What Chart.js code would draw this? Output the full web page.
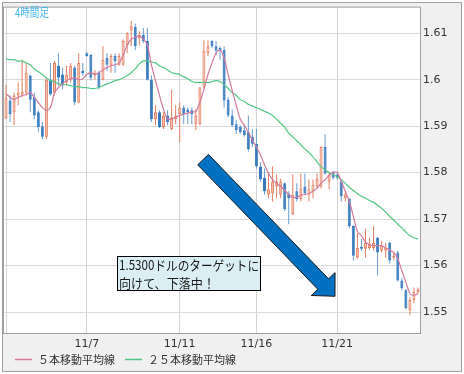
<!DOCTYPE html>
<html>
<head>
<meta charset="utf-8">
<script src="https://cdn.jsdelivr.net/npm/chart.js@4.4.1/dist/chart.umd.min.js"></script>
<style>
html, body { margin: 0; padding: 0; background: #fff; }
</style>
</head>
<body>
<canvas id="myChart" width="464" height="374"></canvas>
<script>
// 4時間足 ローソク足 (読み取り値)
const open = [
    1.5917,1.5955,1.5930,1.5966,1.5968,1.5972,1.6009,1.5962,1.5930,1.5900,
    1.5877,1.6000,1.5972,1.6030,1.6011,1.5994,1.6000,1.6026,1.5951,1.6019,
    1.6057,1.6053,1.6009,1.6015,1.6000,1.6047,1.6032,1.6051,1.6032,1.6032,
    1.6074,1.6106,1.6113,1.6089,1.6096,1.6083,1.6000,1.5915,1.5930,1.5898,
    1.5923,1.5894,1.5915,1.5926,1.5940,1.5936,1.5934,1.5904,1.5904,1.5983,
    1.6057,1.6083,1.6072,1.6068,1.6064,1.5957,1.5923,1.5904,1.5898,1.5891,
    1.5887,1.5877,1.5862,1.5813,1.5789,1.5753,1.5755,1.5770,1.5753,1.5777,
    1.5755,1.5711,1.5760,1.5743,1.5770,1.5753,1.5760,1.5770,1.5770,1.5855,
    1.5781,1.5802,1.5796,1.5781,1.5745,1.5743,1.5685,1.5617,1.5640,1.5636,
    1.5638,1.5638,1.5660,1.5632,1.5632,1.5649,1.5617,1.5628,1.5568,1.5547,
    1.5504,1.5526,1.5543
];
const high = [
    1.5989,1.5966,1.5972,1.5994,1.6043,1.6036,1.6011,1.5972,1.5934,1.5909,
    1.6004,1.6036,1.6040,1.6057,1.6026,1.6030,1.6036,1.6030,1.6057,1.6036,
    1.6060,1.6055,1.6021,1.6019,1.6072,1.6057,1.6055,1.6057,1.6057,1.6087,
    1.6102,1.6126,1.6121,1.6104,1.6111,1.6111,1.6009,1.5945,1.5934,1.5930,
    1.5934,1.5979,1.5945,1.5951,1.5945,1.5940,1.5940,1.5936,1.5985,1.6085,
    1.6085,1.6085,1.6083,1.6072,1.6072,1.5962,1.5936,1.5913,1.5902,1.5904,
    1.5923,1.5894,1.5894,1.5823,1.5809,1.5802,1.5813,1.5796,1.5787,1.5779,
    1.5760,1.5796,1.5777,1.5798,1.5798,1.5785,1.5785,1.5798,1.5857,1.5883,
    1.5802,1.5804,1.5802,1.5785,1.5760,1.5745,1.5687,1.5670,1.5657,1.5679,
    1.5660,1.5685,1.5662,1.5653,1.5649,1.5651,1.5628,1.5632,1.5574,1.5549,
    1.5532,1.5553,1.5553
];
const low = [
    1.5915,1.5909,1.5902,1.5945,1.5962,1.5966,1.5930,1.5915,1.5887,1.5872,
    1.5872,1.5966,1.5966,1.5987,1.5979,1.5987,1.5994,1.5945,1.5949,1.6009,
    1.6049,1.5998,1.6000,1.5979,1.5998,1.6019,1.6015,1.6015,1.6030,1.6030,
    1.6057,1.6072,1.6064,1.6074,1.6079,1.5998,1.5909,1.5902,1.5896,1.5894,
    1.5902,1.5891,1.5904,1.5866,1.5904,1.5904,1.5904,1.5891,1.5902,1.5979,
    1.6051,1.6068,1.6053,1.6043,1.5940,1.5919,1.5898,1.5883,1.5883,1.5877,
    1.5845,1.5855,1.5809,1.5781,1.5753,1.5745,1.5738,1.5745,1.5745,1.5717,
    1.5689,1.5709,1.5738,1.5738,1.5753,1.5738,1.5745,1.5766,1.5766,1.5796,
    1.5764,1.5785,1.5785,1.5738,1.5738,1.5681,1.5611,1.5615,1.5632,1.5617,
    1.5634,1.5632,1.5579,1.5628,1.5617,1.5604,1.5611,1.5566,1.5547,1.5506,
    1.5494,1.5519,1.5540
];
const close = [
    1.5960,1.5926,1.5966,1.5972,1.5974,1.6015,1.5957,1.5923,1.5898,1.5877,
    1.6000,1.5968,1.6036,1.6004,1.5989,1.6011,1.6030,1.5951,1.6036,1.6013,
    1.6051,1.6004,1.6015,1.5983,1.6043,1.6032,1.6051,1.6040,1.6051,1.6083,
    1.6100,1.6115,1.6072,1.6096,1.6083,1.6000,1.5915,1.5930,1.5898,1.5923,
    1.5909,1.5919,1.5923,1.5940,1.5926,1.5930,1.5926,1.5923,1.5983,1.6062,
    1.6072,1.6072,1.6062,1.6062,1.5955,1.5923,1.5902,1.5891,1.5887,1.5881,
    1.5851,1.5862,1.5813,1.5785,1.5760,1.5764,1.5781,1.5781,1.5781,1.5721,
    1.5745,1.5753,1.5743,1.5766,1.5755,1.5764,1.5774,1.5787,1.5855,1.5798,
    1.5796,1.5789,1.5789,1.5749,1.5753,1.5685,1.5621,1.5638,1.5636,1.5649,
    1.5647,1.5649,1.5628,1.5643,1.5638,1.5611,1.5621,1.5568,1.5551,1.5509,
    1.5526,1.5543,1.5549
];
// 移動平均線 (読み取り値)
const ma5 = [
    1.5970,1.5962,1.5957,1.5962,1.5966,1.5968,1.5972,1.5962,1.5951,1.5940,
    1.5934,1.5940,1.5972,1.5983,1.5991,1.5998,1.6002,1.6004,1.6000,1.6002,
    1.6011,1.6015,1.6011,1.6015,1.6021,1.6026,1.6030,1.6032,1.6036,1.6053,
    1.6074,1.6087,1.6091,1.6094,1.6087,1.6074,1.6032,1.5998,1.5966,1.5936,
    1.5915,1.5915,1.5919,1.5923,1.5926,1.5928,1.5930,1.5932,1.5951,1.5979,
    1.6011,1.6036,1.6057,1.6064,1.6047,1.6011,1.5977,1.5945,1.5915,1.5902,
    1.5887,1.5870,1.5855,1.5838,1.5817,1.5798,1.5785,1.5777,1.5770,1.5762,
    1.5753,1.5747,1.5747,1.5751,1.5753,1.5755,1.5760,1.5766,1.5777,1.5785,
    1.5794,1.5800,1.5800,1.5781,1.5760,1.5738,1.5706,1.5674,1.5664,1.5651,
    1.5645,1.5643,1.5643,1.5643,1.5638,1.5634,1.5628,1.5615,1.5589,1.5564,
    1.5540,1.5536,1.5540
];
const ma25 = [
    1.6045,1.6043,1.6043,1.6040,1.6040,1.6036,1.6032,1.6023,1.6017,1.6011,
    1.6004,1.5998,1.5996,1.5991,1.5989,1.5989,1.5987,1.5985,1.5985,1.5983,
    1.5983,1.5981,1.5981,1.5983,1.5987,1.5991,1.5994,1.5998,1.6000,1.6004,
    1.6009,1.6015,1.6023,1.6034,1.6040,1.6040,1.6038,1.6036,1.6030,1.6026,
    1.6021,1.6015,1.6013,1.6011,1.6006,1.6002,1.5996,1.5994,1.5994,1.5994,
    1.5994,1.5996,1.5998,1.5996,1.5989,1.5981,1.5972,1.5966,1.5957,1.5953,
    1.5947,1.5943,1.5940,1.5936,1.5932,1.5928,1.5923,1.5915,1.5906,1.5898,
    1.5885,1.5877,1.5868,1.5860,1.5851,1.5843,1.5834,1.5823,1.5813,1.5806,
    1.5800,1.5796,1.5791,1.5785,1.5777,1.5768,1.5762,1.5755,1.5749,1.5745,
    1.5740,1.5736,1.5730,1.5723,1.5715,1.5706,1.5698,1.5689,1.5681,1.5672,
    1.5664,1.5660,1.5657
];
// 目盛り (ローソク足の番号と日付)
const tickIndex = [0, 20, 43, 62, 82];
const tickText = ['', '11/7', '11/11', '11/16', '11/21'];
const yTicks = [1.55, 1.56, 1.57, 1.58, 1.59, 1.6, 1.61];
const legendNames = ['５本移動平均線', '２５本移動平均線'];

const labels = open.map(function (v, i) {
    const k = tickIndex.indexOf(i);
    return k >= 0 ? tickText[k] : '';
});

const upFill = '#f7c4b1', upLine = '#e07f62';
const downFill = '#3579bd', downLine = '#6a9ccf';
const ma5Color = '#d27a9f', ma25Color = '#52c785';

function isUp(i) { return close[i] >= open[i]; }

const framePlugin = {
    id: 'frame',
    beforeDraw(chart) {
        const c = chart.ctx, a = chart.chartArea;
        c.save();
        c.fillStyle = '#ffffff';
        c.fillRect(0, 0, chart.width, chart.height);
        c.fillStyle = '#f0f0f0';
        c.fillRect(3, 3, 458, 368);
        c.fillStyle = '#ffffff';
        c.fillRect(a.left, a.top, a.right - a.left, a.bottom - a.top);
        c.restore();
    },
    afterDatasetsDraw(chart) {
        const c = chart.ctx, x = chart.scales.x, y = chart.scales.y;
        // 矢印
        const tx = x.getPixelForValue(48.8), ty = y.getPixelForValue(1.5828);
        const hx = x.getPixelForValue(81.45), hy = y.getPixelForValue(1.5534);
        const len = Math.hypot(hx - tx, hy - ty);
        const dx = (hx - tx) / len, dy = (hy - ty) / len;
        const nx = -dy, ny = dx;
        const sw = 7.5, hw = 16.5, hl = 17;
        const bx = hx - dx * hl, by = hy - dy * hl;
        c.save();
        c.beginPath();
        c.moveTo(tx + nx * sw, ty + ny * sw);
        c.lineTo(bx + nx * sw, by + ny * sw);
        c.lineTo(bx + nx * hw, by + ny * hw);
        c.lineTo(hx, hy);
        c.lineTo(bx - nx * hw, by - ny * hw);
        c.lineTo(bx - nx * sw, by - ny * sw);
        c.lineTo(tx - nx * sw, ty - ny * sw);
        c.closePath();
        c.fillStyle = '#0070c0';
        c.fill();
        c.strokeStyle = '#1a1a1a';
        c.lineWidth = 1;
        c.stroke();

        // 吹き出し
        c.fillStyle = '#dbeef4';
        c.fillRect(117.5, 256.5, 143, 34);
        c.strokeStyle = '#000000';
        c.strokeRect(117.5, 256.5, 143, 34);
        c.fillStyle = '#1a1a1a';
        c.font = '13px "Noto Sans CJK JP"';
        c.textBaseline = 'middle';
        c.textAlign = 'left';
        c.fillText('1.5300ドルのターゲットに', 119, 265, 140);
        c.fillText('向けて、下落中！', 119, 283, 96);
        c.restore();
    },
    afterDraw(chart) {
        const c = chart.ctx, a = chart.chartArea;
        c.save();
        c.strokeStyle = '#a0a0a0';
        c.lineWidth = 1;
        c.strokeRect(2.5, 2.5, 459, 369);
        c.strokeRect(a.left - 0.5, a.top - 0.5, a.right - a.left + 1, a.bottom - a.top + 1);

        c.fillStyle = '#45b5e8';
        c.font = '12px "Noto Sans CJK JP"';
        c.textBaseline = 'middle';
        c.fillText('4時間足', 15, 12.5, 34);

        // 凡例
        const items = [[15, ma5Color], [125, ma25Color]];
        c.font = '11px "Noto Sans CJK JP"';
        items.forEach(function (it, k) {
            c.strokeStyle = it[1];
            c.lineWidth = 1.5;
            c.beginPath();
            c.moveTo(it[0], 359.5);
            c.lineTo(it[0] + 17, 359.5);
            c.stroke();
            c.fillStyle = '#333333';
            c.fillText(legendNames[k], it[0] + 23, 359.5);
        });
        c.restore();
    }
};

const ctx = document.getElementById('myChart');
new Chart(ctx, {
    type: 'bar',
    data: {
        labels: labels,
        datasets: [
            {
                type: 'line',
                label: legendNames[0],
                data: ma5,
                borderColor: ma5Color,
                borderWidth: 1.2,
                pointRadius: 0,
                tension: 0.3,
                order: 0
            },
            {
                type: 'line',
                label: legendNames[1],
                data: ma25,
                borderColor: ma25Color,
                borderWidth: 1.2,
                pointRadius: 0,
                tension: 0.3,
                order: 0
            },
            {
                label: 'body',
                data: open.map(function (o, i) { return [o, close[i]]; }),
                backgroundColor: function (c) { return isUp(c.dataIndex) ? upFill : downFill; },
                borderColor: function (c) { return isUp(c.dataIndex) ? upLine : downFill; },
                borderWidth: 1,
                borderSkipped: false,
                barThickness: 3,
                minBarLength: 1,
                inflateAmount: 0,
                grouped: false,
                order: 1
            },
            {
                label: 'wick',
                data: low.map(function (l, i) { return [l, high[i]]; }),
                backgroundColor: function (c) { return isUp(c.dataIndex) ? upLine : downLine; },
                borderWidth: 0,
                barThickness: 1,
                inflateAmount: 0,
                grouped: false,
                order: 2
            }
        ]
    },
    options: {
        responsive: false,
        animation: false,
        layout: {
            padding: { left: 4, top: 4, right: 3, bottom: 0 }
        },
        scales: {
            x: {
                type: 'category',
                offset: true,
                border: { display: false },
                grid: {
                    offset: false,
                    drawTicks: false,
                    color: function (c) { return tickIndex.indexOf(c.index) >= 0 ? '#d4d4d4' : 'rgba(0,0,0,0)'; }
                },
                ticks: {
                    autoSkip: false,
                    maxRotation: 0,
                    padding: 5,
                    color: '#333333',
                    font: { family: '"DejaVu Sans"', size: 11 }
                },
                afterFit: function (s) { s.height = 41; }
            },
            y: {
                position: 'right',
                min: 1.5455,
                max: 1.6155,
                border: { display: false },
                grid: {
                    color: '#dadada',
                    tickLength: 2
                },
                afterBuildTicks: function (s) {
                    s.ticks = yTicks.map(function (v) { return { value: v }; });
                },
                ticks: {
                    padding: 1,
                    color: '#333333',
                    font: { family: '"DejaVu Sans"', size: 11 },
                    callback: function (v) { return String(+v.toFixed(2)); }
                },
                afterFit: function (s) { s.width = 41; }
            }
        },
        plugins: {
            legend: { display: false },
            tooltip: { enabled: false }
        }
    },
    plugins: [framePlugin]
});
</script>
</body>
</html>
